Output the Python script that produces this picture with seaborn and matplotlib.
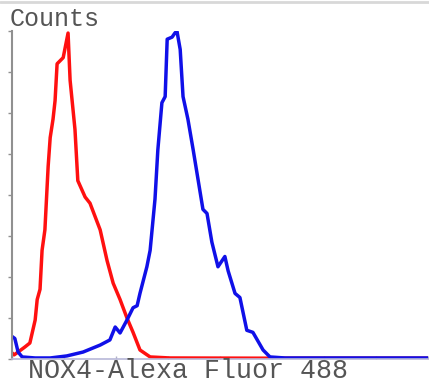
import numpy as np
import pandas as pd
import matplotlib
matplotlib.use("Agg")
import matplotlib.pyplot as plt
from matplotlib.lines import Line2D
import seaborn as sns

# Histogram traces (channel 0-1024, counts)
control_channel = [0, 5, 15, 32, 44, 57, 62, 69, 74, 81, 89, 94, 101, 106, 111, 126, 138,
                   143, 155, 162, 180, 192, 217, 234, 249, 266, 283, 298, 315, 340, 389, 600, 1024]
control_counts = [3, 2, 3.4, 5.9, 7.8, 19, 29, 34, 53, 63, 94, 108, 117, 126, 144, 147, 159,
                  136, 112, 87, 79, 76, 63, 48, 37, 29, 20, 13, 4.4, 1, 0.5, 0.4, 0.4]

nox4_channel = [0, 7, 15, 25, 57, 94, 135, 175, 217, 241, 254, 266, 283, 298, 308, 315, 332,
                340, 352, 359, 369, 377, 382, 394, 401, 406, 414, 421, 433, 446, 470, 480,
                492, 507, 524, 532, 549, 561, 578, 593, 618, 635, 672, 1024]
nox4_counts = [11, 10, 3.4, 1, 0.5, 0.5, 1.5, 3.4, 6.8, 9.3, 15.6, 12.7, 19, 25, 26, 32, 45,
               53, 78, 102, 125, 128, 156, 157, 159, 160, 151, 128, 117, 102, 73, 71,
               57, 45, 50, 43, 32, 30, 14, 13, 4.4, 1, 0.5, 0.5]

series_names = ["Control", "NOX4"]
series_colors = {"Control": "#ff1010", "NOX4": "#1010e8"}

df = pd.concat([
    pd.DataFrame({"channel": control_channel, "counts": control_counts, "sample": "Control"}),
    pd.DataFrame({"channel": nox4_channel, "counts": nox4_counts, "sample": "NOX4"}),
])

sns.set_style("white")
plt.rcParams["font.family"] = ["Liberation Mono", "DejaVu Sans Mono"]

fig = plt.figure(figsize=(4.29, 3.83), dpi=100)
ax = fig.add_axes([12 / 429, 1 - 359 / 383, 416 / 429, 328 / 383])

sns.lineplot(data=df, x="channel", y="counts", hue="sample", hue_order=series_names,
             palette=series_colors, sort=False, linewidth=2.5, legend=False, ax=ax)

ax.set_xlim(0, 1024)
ax.set_ylim(0, 160)
ax.set_xticks(np.arange(0, 1025, 128))
ax.set_yticks(np.arange(0, 161, 20))
ax.set_xticklabels([])
ax.set_yticklabels([])
ax.set_xlabel("")
ax.set_ylabel("")
ax.tick_params(axis="y", direction="out", length=3, width=1, color="#909090", left=True)
ax.tick_params(axis="x", direction="in", length=2, width=1, color="#b0b0c8", bottom=True)

for side in ["top", "right"]:
    ax.spines[side].set_visible(False)
ax.spines["left"].set_color("#909090")
ax.spines["left"].set_linewidth(1.5)
ax.spines["bottom"].set_color("#b8b8d8")
ax.spines["bottom"].set_linewidth(1.2)

fig.text(10 / 429, 1 - 26 / 383, "Counts", fontsize=18, color="#555555", va="baseline")
fig.text(28 / 429, 1 - 378 / 383, "NOX4-Alexa Fluor 488", fontsize=19.2, color="#555555",
         va="baseline")

# thin grey frame line along the top edge
fig.add_artist(Line2D([0, 1], [0.996, 0.996], color="#d8d8d8", linewidth=2,
                      transform=fig.transFigure))

fig.savefig("out.png", dpi=100)
